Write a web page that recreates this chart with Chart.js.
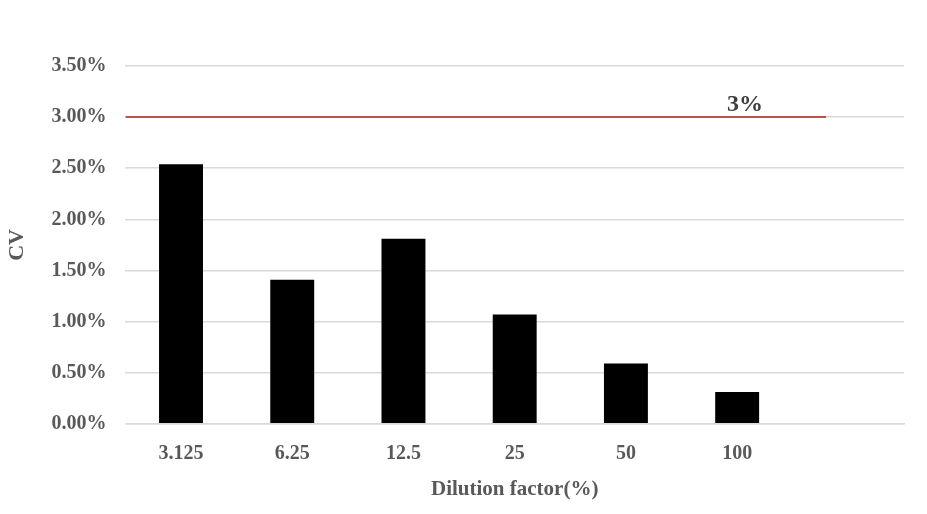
<!DOCTYPE html>
<html>
<head>
<meta charset="utf-8">
<script src="https://cdn.jsdelivr.net/npm/chart.js@4.4.1/dist/chart.umd.min.js"></script>
<style>
  html, body { margin: 0; padding: 0; background: #fff; }
  #wrap { width: 927px; height: 514px; }
</style>
</head>
<body>
<div id="wrap"><canvas id="cvChart"></canvas></div>
<script>
/* -------------------------------------------------------
   Data
------------------------------------------------------- */
const dilutions = ['3.125', '6.25', '12.5', '25', '50', '100', ''];
const cvValues  = [2.54, 1.41, 1.81, 1.07, 0.59, 0.31, null];
const yTicks    = [0, 0.5, 1, 1.5, 2, 2.5, 3, 3.5];

// 3% limit line, drawn on a hidden linear x axis (0..7 categories)
const limitValue = 3;
const limitX     = [0, 6.3];
const limitLabel = '3%';
const limitLabelX = 5.57;

/* -------------------------------------------------------
   Styles
------------------------------------------------------- */
const FONT = "'Liberation Serif', 'Times New Roman', serif";
const TEXT = '#595959';
const GRID = '#d9d9d9';
const RED  = '#c0504d';

// Writes the "3%" label just above the limit line
const limitLabelPlugin = {
  id: 'limitLabel',
  afterDatasetsDraw(chart) {
    const { ctx, scales } = chart;
    const x = scales.x2.getPixelForValue(limitLabelX);
    const y = scales.y.getPixelForValue(limitValue);
    ctx.save();
    ctx.font = `bold 24px ${FONT}`;
    ctx.fillStyle = '#404040';
    ctx.textAlign = 'center';
    ctx.textBaseline = 'alphabetic';
    ctx.fillText(limitLabel, x, y - 6);
    ctx.restore();
  }
};

new Chart(document.getElementById('cvChart'), {
  data: {
    labels: dilutions,
    datasets: [
      {
        type: 'bar',
        label: 'CV',
        data: cvValues,
        backgroundColor: '#000000',
        borderWidth: 0,
        grouped: false,
        barPercentage: 0.395,
        categoryPercentage: 1.0,
        xAxisID: 'x',
        order: 2
      },
      {
        type: 'line',
        label: 'Limit',
        data: limitX.map(x => ({ x: x, y: limitValue })),
        borderColor: RED,
        borderWidth: 2,
        pointRadius: 0,
        fill: false,
        xAxisID: 'x2',
        order: 1
      }
    ]
  },
  options: {
    responsive: true,
    maintainAspectRatio: false,
    animation: false,
    layout: { padding: { top: 66, right: 23, left: 4, bottom: 12 } },
    plugins: {
      legend: { display: false },
      tooltip: { enabled: false }
    },
    scales: {
      x: {
        type: 'category',
        offset: true,
        grid: { display: false },
        border: { display: true, color: GRID, width: 1.5 },
        ticks: {
          color: TEXT,
          padding: 10,
          maxRotation: 0,
          autoSkip: false,
          font: { family: FONT, size: 20, weight: 'bold' }
        },
        title: {
          display: true,
          text: 'Dilution factor(%)',
          color: TEXT,
          padding: { top: 1, bottom: 0 },
          font: { family: FONT, size: 21, weight: 'bold' }
        }
      },
      x2: {
        type: 'linear',
        display: false,
        min: 0,
        max: 7
      },
      y: {
        min: 0,
        max: 3.5,
        afterBuildTicks: axis => {
          axis.ticks = yTicks.map(v => ({ value: v }));
        },
        grid: { color: GRID, lineWidth: 1.5, drawTicks: false },
        border: { display: false },
        ticks: {
          color: TEXT,
          padding: 19,
          font: { family: FONT, size: 20, weight: 'bold' },
          callback: v => v.toFixed(2) + '%'
        },
        title: {
          display: true,
          text: 'CV',
          color: TEXT,
          padding: { top: 0, bottom: 2 },
          font: { family: FONT, size: 22, weight: 'bold' }
        }
      }
    }
  },
  plugins: [limitLabelPlugin]
});
</script>
</body>
</html>
